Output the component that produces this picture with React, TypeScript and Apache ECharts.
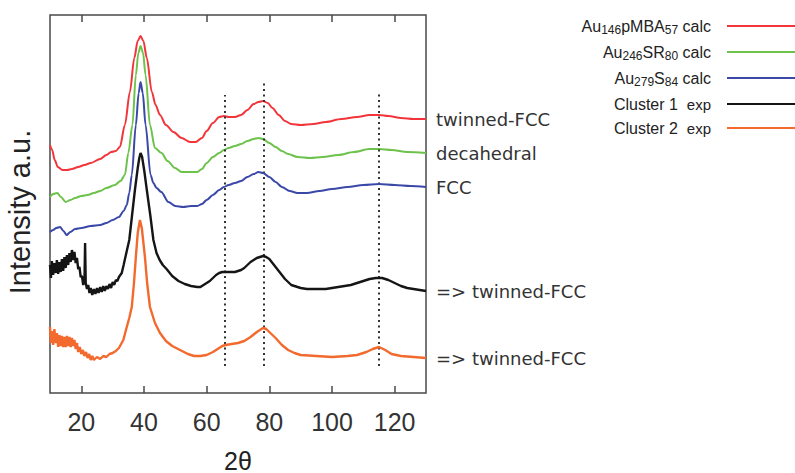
import React, { useEffect, useRef } from 'react';
import * as echarts from 'echarts';

const xTicks = [20, 40, 60, 80, 100, 120];
const seriesNames = ['Au146pMBA57 calc', 'Au246SR80 calc', 'Au279S84 calc', 'Cluster 1 exp', 'Cluster 2 exp'];
const seriesColors = ['#f2353a', '#6cc24a', '#3a48a8', '#151515', '#f26a2e'];
const endLabels = ['twinned-FCC', 'decahedral', 'FCC', '=> twinned-FCC', '=> twinned-FCC'];
const legendRichText = [
  '{n|Au}{s|146}{n|pMBA}{s|57}{n| calc}{g| }',
  '{n|Au}{s|246}{n|SR}{s|80}{n| calc}{g| }',
  '{n|Au}{s|279}{n|S}{s|84}{n| calc}{g| }',
  '{n|Cluster 1  }{e|exp}{g| }',
  '{n|Cluster 2  }{e|exp}{g| }',
];

const peakX = [65.8, 78.3, 115];
const peakTop = [298, 313, 301];
const peakBottom = 27;

const twinnedCalc: [number, number][] = [
  [10, 248], [10.7, 243], [11.5, 233], [12.5, 226], [14, 223], [15.5, 223], [17, 224], [19, 226], [21, 228],
  [23, 230], [26, 234], [28, 238], [29.5, 241], [31, 242], [32.3, 246], [33.9, 268], [35.5, 301], [36.9, 335],
  [38, 352], [38.9, 357], [39.8, 352], [40.9, 335], [42.5, 301], [43.7, 288], [45.1, 278], [47, 268],
  [49.4, 261], [52, 255], [54.7, 251], [56.5, 251], [58.5, 255], [60, 262], [62, 270], [64, 276], [65.5, 277],
  [67, 276], [69, 276], [71, 278], [73, 283], [75, 289], [76.5, 291], [78, 292], [79.5, 290], [81, 285],
  [83, 278], [85, 272], [87, 269], [90, 268], [94, 269], [98, 271], [103, 274], [108, 276], [112, 278],
  [115, 278], [118, 277], [122, 275], [126, 274], [130, 274],
];

const decahedralCalc: [number, number][] = [
  [10, 196], [11, 199], [12.3, 200], [13.5, 196], [15, 191], [16.5, 193], [18, 195], [20, 197], [22, 198],
  [24, 200], [26, 202], [28, 205], [30.7, 208], [32.5, 212], [33.9, 218], [35, 240], [36.3, 268], [37.4, 318],
  [38.2, 340], [38.9, 347], [39.7, 340], [40.5, 318], [41.9, 268], [43.5, 245], [45.6, 240], [47.5, 232],
  [49.9, 225], [52, 221], [54.7, 221], [57, 221], [58.5, 224], [60, 230], [62, 236], [64, 240], [65.5, 243],
  [67, 245], [69, 247], [71, 249], [73, 252], [75, 254], [76.5, 255], [78, 254], [80, 250], [82, 246],
  [84, 242], [86, 239], [89, 236], [93, 235], [97, 236], [102, 238], [107, 241], [112, 244], [115, 244],
  [119, 243], [124, 241], [130, 240],
];

const fccCalc: [number, number][] = [
  [10, 161], [11, 163], [12, 165], [13.2, 166], [14.3, 162], [15.3, 158], [16.5, 161], [18, 164], [20, 165],
  [23, 167], [26, 168], [28, 170], [30, 173], [32, 176], [33.5, 182], [34.5, 188], [35.3, 200], [36.1, 218],
  [37.4, 268], [38.3, 300], [38.9, 311], [39.6, 300], [40.5, 268], [42.1, 218], [43, 210], [44, 205],
  [45.5, 201], [47.8, 191], [50, 187], [52.5, 186], [55, 187], [57, 187], [58.5, 189], [60, 193], [62, 198],
  [64, 203], [65.5, 206], [67, 208], [69, 210], [71, 212], [73, 216], [75, 219], [76.5, 221], [78, 220],
  [80, 216], [82, 211], [84, 206], [86.5, 202], [89, 200], [92, 200], [96, 202], [100, 204], [105, 206],
  [110, 208], [115, 209], [120, 208], [125, 207], [130, 206],
];

const cluster1Exp: [number, number][] = [
  [10, 128], [10.3, 115], [10.6, 132], [11, 118], [11.4, 130], [11.8, 120], [12.2, 133], [12.6, 119], [13, 131],
  [13.4, 121], [13.8, 134], [14.2, 122], [14.6, 136], [15, 125], [15.4, 138], [15.8, 128], [16.2, 140],
  [16.6, 131], [17, 143], [17.4, 133], [17.8, 141], [18.2, 130], [18.6, 135], [19, 124], [19.4, 126],
  [19.8, 116], [20.2, 117], [20.6, 108], [21, 112], [21.2, 150], [21.4, 110], [21.8, 104], [22.2, 108],
  [22.6, 100], [23, 105], [23.5, 98], [24, 104], [24.5, 99], [25, 105], [25.5, 100], [26, 106], [26.5, 101],
  [27, 107], [27.5, 102], [28, 107], [28.5, 104], [29, 109], [29.5, 105], [30, 111], [30.5, 108], [31, 113],
  [31.5, 112], [32, 116], [32.9, 120], [33.5, 128], [34.5, 142], [35.3, 153], [36.2, 178], [37.1, 203],
  [38, 225], [38.5, 235], [38.9, 240], [39.4, 236], [40.1, 222], [40.9, 203], [42, 178], [43, 153], [44, 140],
  [45, 133], [46, 128], [47.2, 124], [49, 117], [51, 112], [53, 109], [55, 107], [57, 106], [58, 106],
  [59, 108], [60, 110], [61, 112], [62, 115], [63, 118], [64, 120], [65, 121], [66, 121], [67, 121], [68, 121],
  [69, 121], [70, 122], [71, 123], [72, 125], [73, 128], [74, 131], [75, 133], [76, 135], [77, 136], [78, 137],
  [79, 136], [80, 134], [81, 130], [82, 126], [83, 122], [84, 118], [85, 114], [86, 111], [87, 108], [88, 107],
  [89, 106], [90, 105], [92, 104], [94, 104], [96, 104], [98, 104], [100, 105], [102, 106], [104, 107],
  [106, 108], [108, 110], [110, 112], [112, 114], [114, 115], [115, 115], [116, 115], [118, 113], [120, 110],
  [122, 107], [124, 105], [126, 104], [128, 103], [130, 102],
];

const cluster2Exp: [number, number][] = [
  [10, 66], [10.3, 50], [10.6, 62], [11, 48], [11.4, 64], [11.8, 50], [12.2, 60], [12.6, 46], [13, 58],
  [13.4, 47], [13.8, 57], [14.2, 46], [14.6, 56], [15, 46], [15.4, 57], [15.8, 47], [16.2, 56], [16.6, 46],
  [17, 55], [17.4, 47], [17.8, 53], [18.2, 44], [18.6, 50], [19, 41], [19.5, 46], [20, 39], [20.5, 43],
  [21, 37], [21.5, 41], [22, 35], [22.5, 39], [23, 33], [23.5, 37], [24, 33], [25, 36], [26, 34], [27, 37],
  [28, 36], [29, 39], [30, 40], [31, 42], [32, 45], [33.4, 53], [34.5, 66], [35.3, 75], [36.1, 86],
  [36.8, 110], [37.4, 136], [38, 160], [38.7, 173], [39.3, 165], [40.3, 136], [41, 110], [41.9, 86],
  [43.5, 70], [45.1, 60], [47, 52], [49, 47], [51.5, 43], [54, 39], [56, 37], [58, 37], [60, 38], [62, 41],
  [64, 45], [65, 47], [66, 48], [68, 49], [70, 50], [72, 52], [74, 56], [76, 61], [78, 65], [79, 64], [80, 61],
  [82, 55], [84, 48], [86, 43], [88, 40], [90, 38], [95, 37], [100, 36], [105, 37], [108, 38], [111, 41],
  [113, 44], [115, 46], [117, 43], [119, 39], [122, 37], [126, 36], [130, 35],
];

const seriesData = [twinnedCalc, decahedralCalc, fccCalc, cluster1Exp, cluster2Exp];
const isExperimental = [false, false, false, true, true];

export default function App() {
  const ref = useRef<HTMLDivElement>(null);
  useEffect(() => {
    const chart = echarts.init(ref.current!, null, { renderer: 'svg' });
    const sans = 'Liberation Sans';
    const series: any[] = seriesData.map((d, i) => ({
      type: 'line',
      name: seriesNames[i],
      data: d,
      symbol: 'none',
      smooth: isExperimental[i] ? false : 0.3,
      smoothMonotone: 'x',
      z: 3 + i,
      lineStyle: { color: seriesColors[i], width: isExperimental[i] ? 2.4 : 2 },
      itemStyle: { color: seriesColors[i] },
      endLabel: {
        show: true,
        formatter: endLabels[i],
        distance: 10,
        fontFamily: 'DejaVu Sans',
        fontSize: 18,
        color: '#333',
      },
    }));
    series.push({
      type: 'line',
      name: 'peaks',
      data: [],
      symbol: 'none',
      markLine: {
        silent: true,
        symbol: 'none',
        label: { show: false },
        lineStyle: { color: '#333', width: 2, type: [2, 3.5] },
        data: peakX.map((x, i) => [{ coord: [x, peakBottom] }, { coord: [x, peakTop[i]] }]),
      },
    });
    chart.setOption({
      animation: false,
      backgroundColor: '#fff',
      grid: {
        left: 50, right: 369, top: 15, bottom: 80,
        outerBoundsMode: 'none',
        containLabel: false,
        show: true, borderColor: '#4a4a4a', borderWidth: 1.5,
      },
      legend: {
        data: seriesNames,
        orient: 'vertical',
        align: 'right',
        right: 0,
        top: 18,
        padding: 0,
        icon: 'rect',
        itemWidth: 68,
        itemHeight: 2,
        itemGap: 8,
        formatter: (name: string) => legendRichText[seriesNames.indexOf(name)],
        textStyle: {
          fontFamily: sans,
          fontSize: 16,
          color: '#222',
          rich: {
            n: { fontFamily: sans, fontSize: 16, lineHeight: 20, color: '#222' },
            s: { fontFamily: sans, fontSize: 12, lineHeight: 10, verticalAlign: 'bottom', color: '#222' },
            e: { fontFamily: sans, fontSize: 15, lineHeight: 20, color: '#222' },
            g: { width: 11, fontSize: 16, lineHeight: 20 },
          },
        },
      },
      xAxis: [
        {
          type: 'value',
          min: 10,
          max: 130,
          position: 'bottom',
          name: '2θ',
          nameLocation: 'middle',
          nameGap: 57,
          nameTextStyle: { fontFamily: sans, fontSize: 25, lineHeight: 21, color: '#222' },
          axisLine: { show: false },
          splitLine: { show: false },
          axisTick: { show: true, inside: true, length: 7, customValues: xTicks, lineStyle: { color: '#4a4a4a', width: 1.5 } },
          axisLabel: { show: true, customValues: xTicks, margin: 16, fontFamily: sans, fontSize: 25, color: '#333' },
        },
        {
          type: 'value',
          min: 10,
          max: 130,
          position: 'top',
          axisLine: { show: false },
          splitLine: { show: false },
          axisTick: { show: true, inside: true, length: 7, customValues: xTicks, lineStyle: { color: '#4a4a4a', width: 1.5 } },
          axisLabel: { show: false },
        },
      ],
      yAxis: {
        type: 'value',
        min: 0,
        max: 378,
        name: 'Intensity a.u.',
        nameLocation: 'middle',
        nameGap: 16,
        nameTextStyle: { fontFamily: sans, fontSize: 29, color: '#222', padding: [0, 16, 0, 0] },
        axisLine: { show: false },
        axisTick: { show: false },
        axisLabel: { show: false },
        splitLine: { show: false },
      },
      series,
    });
    return () => chart.dispose();
  }, []);
  return <div ref={ref} style={{ position: 'fixed', left: 0, top: 0, width: 795, height: 473 }} />;
}
